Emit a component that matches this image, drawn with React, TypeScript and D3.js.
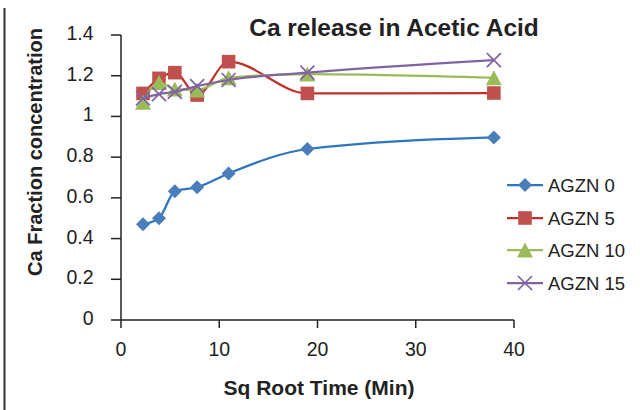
import React from "react";
import * as d3 from "d3";

const xTime = [2.24, 3.87, 5.48, 7.75, 10.95, 18.97, 37.95];
const agzn0 = [0.47, 0.5, 0.632, 0.652, 0.72, 0.84, 0.897];
const agzn5 = [1.113, 1.187, 1.215, 1.105, 1.269, 1.113, 1.115];
const agzn10 = [1.07, 1.167, 1.135, 1.13, 1.19, 1.208, 1.19];
const agzn15 = [1.089, 1.11, 1.121, 1.149, 1.179, 1.215, 1.277];
const seriesNames = ["AGZN 0", "AGZN 5", "AGZN 10", "AGZN 15"];
const yTicks = [0, 0.2, 0.4, 0.6, 0.8, 1, 1.2, 1.4];
const xTicks = [0, 10, 20, 30, 40];

const colors = ["#4A7EBB", "#C0504D", "#9BBB59", "#8064A2"];
const lineColors = ["#2E75C0", "#C0312B", "#9BBB59", "#8064A2"];
const markers = ["diamond", "square", "triangle", "x"];
const FONT = "'Liberation Sans', Arial, sans-serif";

function Marker({ type, x, y, color }: { type: string; x: number; y: number; color: string }) {
  if (type === "diamond") {
    const r = 7;
    return <path d={`M${x},${y - r}L${x + r},${y}L${x},${y + r}L${x - r},${y}Z`} fill={color} />;
  }
  if (type === "square") {
    const r = 6.8;
    return <rect x={x - r} y={y - r} width={2 * r} height={2 * r} fill={color} />;
  }
  if (type === "triangle") {
    const w = 8, h = 7.5;
    return <path d={`M${x},${y - h}L${x + w},${y + h}L${x - w},${y + h}Z`} fill={color} />;
  }
  const r = 7;
  return (
    <path d={`M${x - r},${y - r}L${x + r},${y + r}M${x - r},${y + r}L${x + r},${y - r}`} stroke={color} strokeWidth={1.7} fill="none" />
  );
}

export default function App() {
  const x = d3.scaleLinear().domain([0, 40]).range([121, 514]);
  const y = d3.scaleLinear().domain([0, 1.4]).range([320, 35]);
  const data = [agzn0, agzn5, agzn10, agzn15];
  const line = d3
    .line<[number, number]>()
    .x((d) => x(d[0]))
    .y((d) => y(d[1]))
    .curve(d3.curveMonotoneX);

  const legendY = [185, 218, 250, 283];

  return (
    <svg width={640} height={410} style={{ position: "fixed", left: 0, top: 0, background: "#fff" }} fontFamily={FONT}>
      <rect width={640} height={410} fill="#fff" />
      <line x1={4.5} y1={8} x2={4.5} y2={410} stroke="#333" strokeWidth={2} />
      <text x={394} y={36} textAnchor="middle" fontSize={24.5} fontWeight="bold" fill="#222">
        Ca release in Acetic Acid
      </text>
      {/* Y axis */}
      <line x1={x(0)} y1={y(0)} x2={x(0)} y2={y(1.4)} stroke="#222" strokeWidth={1.5} />
      {yTicks.map((t) => (
        <g key={t}>
          <line x1={x(0) - 10} x2={x(0)} y1={y(t)} y2={y(t)} stroke="#222" strokeWidth={1.5} />
          <text x={93.5} y={y(t) + 5} textAnchor="end" fontSize={19.5} fill="#222">
            {d3.format("~g")(t)}
          </text>
        </g>
      ))}
      {/* X axis */}
      <line x1={x(0)} y1={y(0)} x2={x(40)} y2={y(0)} stroke="#222" strokeWidth={1.5} />
      {xTicks.map((t) => (
        <g key={t}>
          <line x1={x(t)} x2={x(t)} y1={y(0)} y2={y(0) + 8} stroke="#222" strokeWidth={1.5} />
          <text x={x(t)} y={356} textAnchor="middle" fontSize={19.5} fill="#222">
            {t}
          </text>
        </g>
      ))}
      <text x={319} y={395} textAnchor="middle" fontSize={21} fontWeight="bold" fill="#222">
        Sq Root Time (Min)
      </text>
      <text
        transform={`translate(41.5,152) rotate(-90)`}
        textAnchor="middle"
        fontSize={20}
        fontWeight="bold"
        fill="#222"
      >
        Ca Fraction concentration
      </text>
      {data.map((vals, i) => {
        const pts = xTime.map((t, j) => [t, vals[j]] as [number, number]);
        return (
          <g key={i}>
            <path d={line(pts) || ""} fill="none" stroke={lineColors[i]} strokeWidth={2.25} />
            {pts.map((p, j) => (
              <Marker key={j} type={markers[i]} x={x(p[0])} y={y(p[1])} color={colors[i]} />
            ))}
          </g>
        );
      })}
      {seriesNames.map((n, i) => (
        <g key={n}>
          <line x1={507} x2={543} y1={legendY[i]} y2={legendY[i]} stroke={lineColors[i]} strokeWidth={2.25} />
          <Marker type={markers[i]} x={525} y={legendY[i]} color={colors[i]} />
          <text x={548} y={legendY[i] + 6.5} fontSize={18.5} fill="#222">
            {n}
          </text>
        </g>
      ))}
    </svg>
  );
}
